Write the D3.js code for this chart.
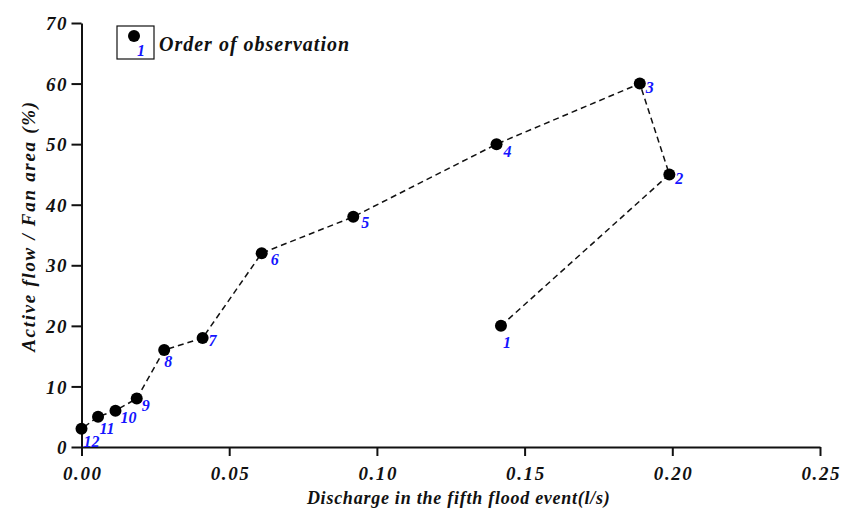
<!DOCTYPE html>
<html>
<head>
<meta charset="utf-8">
<script src="https://cdn.jsdelivr.net/npm/d3@7"></script>
<style>
  html, body { margin: 0; padding: 0; background: #fff; }
  svg { display: block; }
  text { font-family: "Liberation Serif", "Times New Roman", serif; font-style: italic; font-weight: bold; }
</style>
</head>
<body>
<svg id="chart" width="843" height="508"></svg>
<script>
// Observation sequence: discharge (l/s) vs. active flow share of the fan (%)
const observationOrder = [1, 2, 3, 4, 5, 6, 7, 8, 9, 10, 11, 12];
const discharge = [0.142, 0.199, 0.189, 0.1405, 0.092, 0.061, 0.041, 0.028, 0.0187, 0.0115, 0.0056, 0.0];
const activeFlowPct = [20, 45, 60, 50, 38, 32, 18, 16, 8, 6, 5, 3];
const xTicks = [0, 0.05, 0.10, 0.15, 0.20, 0.25];
const yTicks = [0, 10, 20, 30, 40, 50, 60, 70];

const svg = d3.select("#chart");
const margin = { left: 81.5, right: 23, top: 23, bottom: 61 };
const W = 843, H = 508;

const x = d3.scaleLinear().domain([0, 0.25]).range([margin.left, W - margin.right]);
const y = d3.scaleLinear().domain([0, 70]).range([H - margin.bottom, margin.top]);

// Axes
const xAxis = svg.append("g")
  .attr("transform", `translate(0,${y(0)})`)
  .call(d3.axisBottom(x).tickValues(xTicks).tickFormat(d3.format(".2f")).tickSizeInner(9).tickSizeOuter(0).tickPadding(6));
const yAxis = svg.append("g")
  .attr("transform", `translate(${x(0)},0)`)
  .call(d3.axisLeft(y).tickValues(yTicks).tickFormat(d3.format("d")).tickSizeInner(10).tickSizeOuter(0).tickPadding(5));

[xAxis, yAxis].forEach(g => {
  g.select(".domain").attr("stroke", "#111").attr("stroke-width", 2);
  g.selectAll(".tick line").attr("stroke", "#111").attr("stroke-width", 2);
  g.selectAll(".tick text")
    .attr("fill", "#111")
    .style("font-family", "'Liberation Serif', 'Times New Roman', serif")
    .style("font-style", "italic").style("font-weight", "bold")
    .style("font-size", "19px").style("letter-spacing", "1.6px");
});
xAxis.selectAll(".tick text").attr("dy", "0.95em").attr("dx", "0.8");
yAxis.selectAll(".tick text").attr("dy", "0.35em").attr("dx", "1.6");

// Axis titles
svg.append("text")
  .attr("x", (x(0) + x(0.25)) / 2 + 8).attr("y", 504)
  .attr("text-anchor", "middle").attr("fill", "#111")
  .style("font-size", "18px").style("letter-spacing", "0.75px")
  .text("Discharge in the fifth flood event(l/s)");
svg.append("text")
  .attr("transform", `translate(35,${226}) rotate(-90)`)
  .attr("text-anchor", "middle").attr("fill", "#111")
  .style("font-size", "19px").style("letter-spacing", "1.7px")
  .text("Active flow / Fan area (%)");

// Observations
const pts = observationOrder.map((o, i) => ({ order: o, q: discharge[i], a: activeFlowPct[i] }));

svg.append("path")
  .datum(pts)
  .attr("fill", "none").attr("stroke", "#111").attr("stroke-width", 1.5)
  .attr("stroke-dasharray", "6,4")
  .attr("d", d3.line().x(d => x(d.q)).y(d => y(d.a)));

svg.append("g").selectAll("circle")
  .data(pts).join("circle")
  .attr("cx", d => x(d.q)).attr("cy", d => y(d.a))
  .attr("r", 6).attr("fill", "#000");

// Label placement relative to each marker (dx, dy of text centre)
const labelShift = {
  1: [6, 17], 2: [10, 4], 3: [10, 4], 4: [11, 7], 5: [12, 6], 6: [13, 6],
  7: [10, 2], 8: [4, 11], 9: [9, 7], 10: [13, 7], 11: [9, 12], 12: [10, 13]
};
svg.append("g").selectAll("text")
  .data(pts).join("text")
  .attr("x", d => x(d.q) + labelShift[d.order][0])
  .attr("y", d => y(d.a) + labelShift[d.order][1])
  .attr("dy", "0.35em")
  .attr("text-anchor", "middle")
  .attr("fill", "#1515ff")
  .style("font-size", "16px")
  .text(d => d.order);

// Legend
const lg = svg.append("g");
lg.append("rect").attr("x", 117).attr("y", 26).attr("width", 37).attr("height", 33)
  .attr("fill", "none").attr("stroke", "#111").attr("stroke-width", 1.2);
lg.append("circle").attr("cx", 134).attr("cy", 36).attr("r", 6).attr("fill", "#000");
lg.append("text").attr("x", 141).attr("y", 50).attr("dy", "0.35em").attr("text-anchor", "middle")
  .attr("fill", "#1515ff").style("font-size", "16px").text("1");
lg.append("text").attr("x", 159).attr("y", 44).attr("dy", "0.35em")
  .attr("fill", "#111").style("font-size", "20px").style("letter-spacing", "1px")
  .text("Order of observation");
</script>
</body>
</html>
